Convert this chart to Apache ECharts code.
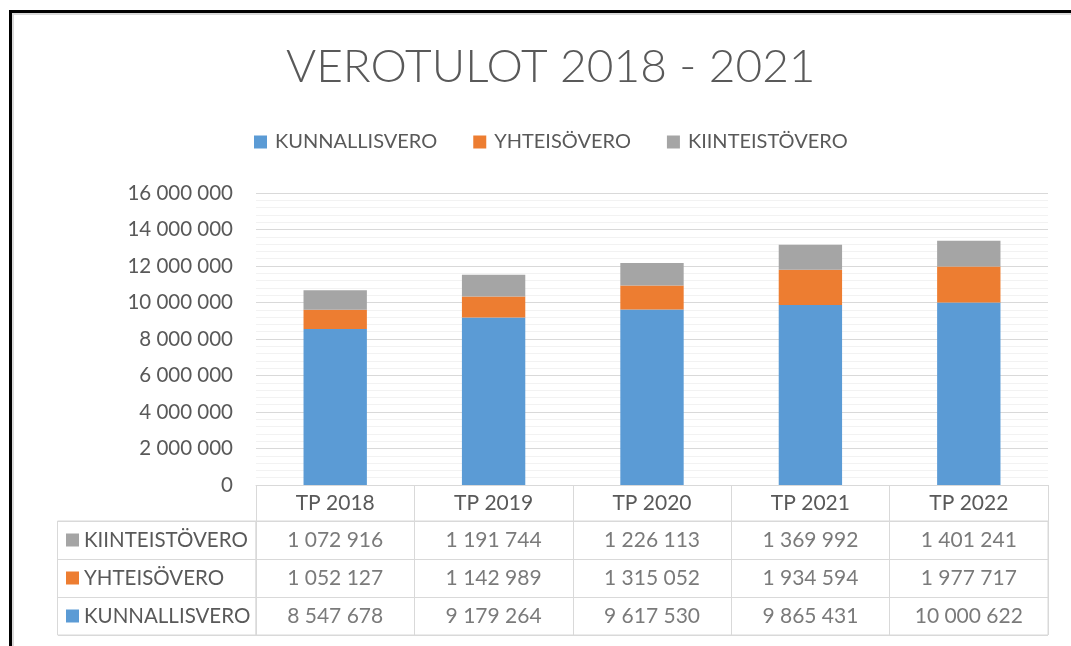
<!DOCTYPE html>
<html><head><meta charset="utf-8">
<script src="https://cdn.jsdelivr.net/npm/echarts@6/dist/echarts.min.js"></script>
<style>html,body{margin:0;padding:0;background:#fff}#c{width:1071px;height:646px}</style>
</head><body><div id="c"></div>
<script>
const categories = ['TP 2018','TP 2019','TP 2020','TP 2021','TP 2022'];
const kunnallisvero = [8547678, 9179264, 9617530, 9865431, 10000622];
const yhteisovero = [1052127, 1142989, 1315052, 1934594, 1977717];
const kiinteistovero = [1072916, 1191744, 1226113, 1369992, 1401241];
const seriesNames = ['KUNNALLISVERO','YHTEISÖVERO','KIINTEISTÖVERO'];
const colors = ['#5B9BD5','#ED7D31','#A5A5A5'];
const yTicks = {min:0, max:16000000, interval:2000000};

const fmt = v => String(v).replace(/\B(?=(\d{3})+(?!\d))/g,' ');
const FONT = 'Lato';
const TXT = '#595959';
const GRID = '#d9d9d9';
const FS = 21;

const seriesValues = [kunnallisvero, yhteisovero, kiinteistovero];
const tableRows = [seriesNames[2], seriesNames[1], seriesNames[0]];
const tableData = [];
tableRows.forEach(name => {
  const vals = seriesValues[seriesNames.indexOf(name)];
  vals.forEach((v,i) => tableData.push([categories[i], name, v]));
});

const chart = echarts.init(document.getElementById('c'), null, {renderer:'canvas'});
chart.setOption({
  animation:false,
  textStyle:{fontFamily:FONT},
  title:{text:'VEROTULOT 2018 - 2021', left:281, top:39,
    textStyle:{fontFamily:FONT, fontWeight:300, fontSize:46, color:TXT}},
  legend:{data:seriesNames, left:249, top:127, icon:'rect', itemWidth:13, itemHeight:13, itemGap:36,
    textStyle:{fontFamily:FONT, fontSize:20, color:TXT, padding:[0,0,0,3]}},
  grid:[
    {left:256, right:23, top:193, bottom:161},
    {left:256, right:23, top:521, height:114, show:true, borderColor:GRID, borderWidth:1}
  ],
  xAxis:[
    {type:'category', data:categories, gridIndex:0,
      axisLine:{show:true, lineStyle:{color:GRID, width:1}},
      axisTick:{show:true, length:36, lineStyle:{color:GRID}},
      axisLabel:{fontFamily:FONT, fontSize:FS, color:TXT, margin:8}},
    {type:'category', data:categories, gridIndex:1,
      axisLine:{show:false}, axisTick:{show:false}, axisLabel:{show:false},
      splitLine:{show:true, lineStyle:{color:GRID}}}
  ],
  yAxis:[
    {type:'value', gridIndex:0, min:yTicks.min, max:yTicks.max, interval:yTicks.interval,
      axisLine:{show:false}, axisTick:{show:false},
      axisLabel:{fontFamily:FONT, fontSize:20.5, color:TXT, margin:23, formatter:v=>fmt(v)},
      splitLine:{show:true, lineStyle:{color:GRID, width:1}},
      minorTick:{show:false, splitNumber:5},
      minorSplitLine:{show:true, lineStyle:{color:'#f2f2f2', width:1}}},
    {type:'category', gridIndex:1, data:tableRows, inverse:true,
      axisLine:{show:false},
      axisTick:{show:true, length:198, lineStyle:{color:GRID}},
      splitLine:{show:true, lineStyle:{color:GRID}},
      axisLabel:{align:'left', margin:190, fontFamily:FONT, fontSize:FS, color:TXT,
        formatter:v=>'{s'+seriesNames.indexOf(v)+'|}{t|'+v+'}',
        rich:{
          s0:{width:13, height:13, backgroundColor:colors[0]},
          s1:{width:13, height:13, backgroundColor:colors[1]},
          s2:{width:13, height:13, backgroundColor:colors[2]},
          t:{fontFamily:FONT, fontSize:20.5, color:TXT, padding:[0,0,0,5]}
        }}}
  ],
  series:[
    ...seriesNames.map((n,i)=>({name:n, type:'bar', stack:'tot', data:seriesValues[i],
      barWidth:'40%', itemStyle:{color:colors[i]}, xAxisIndex:0, yAxisIndex:0})),
    {type:'scatter', xAxisIndex:1, yAxisIndex:1, data:tableData, symbolSize:0, silent:true,
      label:{show:true, position:'inside', fontFamily:FONT, fontSize:FS, color:TXT,
        formatter:p=>fmt(p.value[2])}}
  ],
  graphic:[
    {type:'rect', shape:{x:57.5, y:521, width:198.5, height:114}, style:{fill:'none', stroke:GRID, lineWidth:1}, z:-1},
    {type:'line', shape:{x1:12, y1:14, x2:1071, y2:14}, style:{stroke:'#d9d9d9', lineWidth:2}},
    {type:'line', shape:{x1:13, y1:13, x2:13, y2:646}, style:{stroke:'#d9d9d9', lineWidth:2}},
    {type:'line', shape:{x1:9, y1:11.5, x2:1071, y2:11.5}, style:{stroke:'#000', lineWidth:3}},
    {type:'line', shape:{x1:10.5, y1:10, x2:10.5, y2:646}, style:{stroke:'#000', lineWidth:3}}
  ]
});
</script></body></html>
